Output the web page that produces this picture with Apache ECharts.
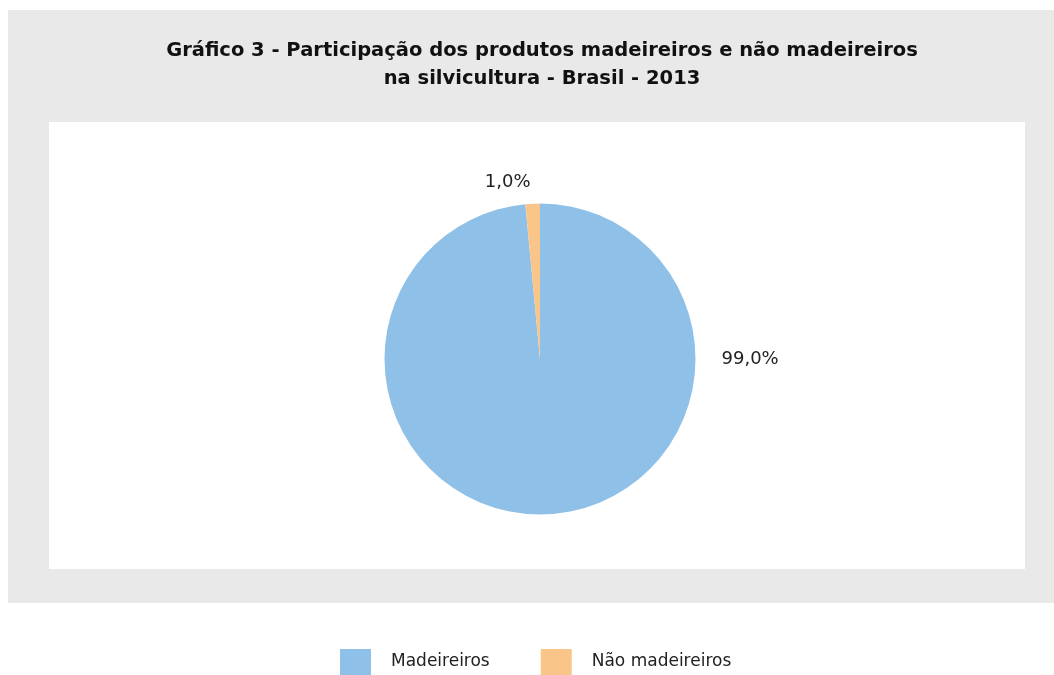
<!DOCTYPE html>
<html>
<head>
<meta charset="utf-8">
<script src="https://cdn.jsdelivr.net/npm/echarts@6/dist/echarts.min.js"></script>
<style>
html,body{margin:0;padding:0;background:#fff;}
#chart{width:1054px;height:675px;}
</style>
</head>
<body>
<div id="chart"></div>
<script>
const titleLines = ['Gráfico 3 - Participação dos produtos madeireiros e não madeireiros', 'na silvicultura - Brasil - 2013'];
const categories = ['Madeireiros', 'Não madeireiros'];
const values = [98.5, 1.5];
const labels = ['99,0%', '1,0%'];
const colors = ['#8fc1e8', '#f9c589'];

const chart = echarts.init(document.getElementById('chart'), null, {renderer: 'canvas'});
const fontFam = '"DejaVu Sans", "Liberation Sans", sans-serif';
const option = {
  animation: false,
  backgroundColor: '#ffffff',
  color: colors,
  graphic: [
    {type: 'rect', z: -10, shape: {x: 8, y: 10, width: 1046, height: 593}, style: {fill: '#e9e9e9'}},
    {type: 'rect', z: -9, shape: {x: 49, y: 122, width: 976, height: 447}, style: {fill: '#ffffff'}}
  ],
  title: {
    text: titleLines.join('\n'),
    left: 537,
    textAlign: 'center',
    top: 32,
    textStyle: {fontFamily: fontFam, fontWeight: 'bold', fontSize: 19.5, lineHeight: 28, color: '#111'}
  },
  legend: {
    top: 649,
    left: 340,
    padding: 0,
    itemWidth: 31,
    itemHeight: 26,
    itemGap: 51,
    icon: 'rect',
    textStyle: {fontFamily: fontFam, fontSize: 17, color: '#222', padding: [0, 0, 0, 15]},
    data: categories
  },
  series: [{
    type: 'pie',
    center: [540, 359],
    radius: 155.5,
    startAngle: 90,
    clockwise: true,
    itemStyle: {borderWidth: 0},
    label: {
      show: true,
      position: 'outside',
      fontFamily: fontFam,
      fontSize: 18,
      color: '#222',
      formatter: p => labels[p.dataIndex]
    },
    labelLine: {show: false},
    labelLayout: function (p) {
      if (p.dataIndex === 0) {
        return {x: p.rect.x + p.rect.width + 26, y: p.rect.y + p.rect.height / 2, align: 'left', verticalAlign: 'middle'};
      }
      return {x: p.rect.x + p.rect.width / 2 - 25, y: p.rect.y - 21, align: 'center', verticalAlign: 'middle'};
    },
    emphasis: {disabled: true},
    data: categories.map((c, i) => ({name: c, value: values[i]}))
  }]
};
chart.setOption(option);
</script>
</body>
</html>
